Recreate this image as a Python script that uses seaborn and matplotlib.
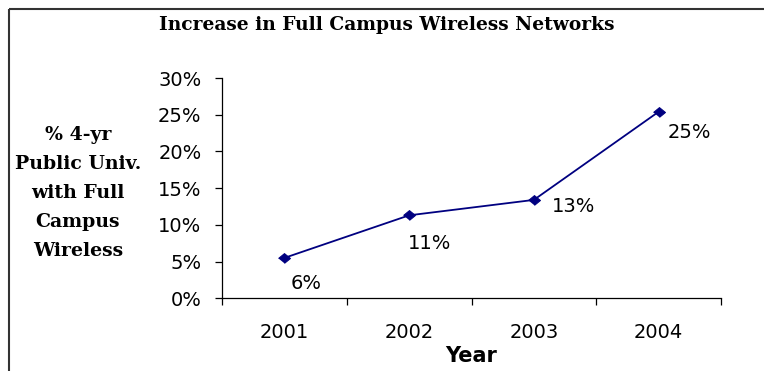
import matplotlib
matplotlib.use("Agg")
import matplotlib.pyplot as plt
from matplotlib.lines import Line2D
from matplotlib.ticker import PercentFormatter, FixedLocator
import seaborn as sns
import pandas as pd

# Share of 4-year public universities with campus-wide wireless
years = ["2001", "2002", "2003", "2004"]
pct_wireless = [5.5, 11.3, 13.4, 25.4]
y_ticks = [0, 5, 10, 15, 20, 25, 30]

title = "Increase in Full Campus Wireless Networks"
y_title = "% 4-yr\nPublic Univ.\nwith Full\nCampus\nWireless"
x_title = "Year"

# label offsets from each point, in pixels (right, down)
label_offsets = [(6, 16), (-1, 19), (18, -3), (9, 11)]

sns.set_theme(style="white")
plt.rcParams["font.family"] = ["DejaVu Sans"]

W, H = 764, 371
DPI = 100
fig = plt.figure(figsize=(W / DPI, H / DPI), dpi=DPI)
fig.patch.set_facecolor("white")

ax_l, ax_r, ax_t, ax_b = 222, 721, 78, 298.3
ax = fig.add_axes([ax_l / W, (H - ax_b) / H, (ax_r - ax_l) / W, (ax_b - ax_t) / H])
ax.set_facecolor("white")

df = pd.DataFrame({"year": years, "pct": pct_wireless})
navy = "#000080"
diamond = [(-1, 0), (0, 0.82), (1, 0), (0, -0.82)]
sns.lineplot(data=df, x="year", y="pct", ax=ax, color=navy, linewidth=1.3,
             marker=diamond, markersize=8.6, markeredgecolor=navy,
             markerfacecolor=navy, sort=False)

ax.set_xlim(-0.5, len(years) - 0.5)
ax.set_ylim(y_ticks[0], y_ticks[-1])

# y axis
ax.yaxis.set_major_locator(FixedLocator(y_ticks))
ax.yaxis.set_major_formatter(PercentFormatter(decimals=0))
ax.tick_params(axis="y", which="major", direction="out", length=4.7, width=0.9,
               color="black", pad=10, labelsize=14, labelcolor="black", left=True)

# x axis: labels at category centres, tick marks between categories
ax.set_xticks(range(len(years)))
ax.set_xticklabels(years)
ax.set_xticks([i - 0.5 for i in range(len(years) + 1)], minor=True)
ax.tick_params(axis="x", which="major", length=0, pad=17.6, labelsize=14,
               labelcolor="black")
ax.tick_params(axis="x", which="minor", direction="out", length=5, width=0.9,
               color="black", bottom=True)

for side in ["top", "right"]:
    ax.spines[side].set_visible(False)
for side in ["left", "bottom"]:
    ax.spines[side].set_color("black")
    ax.spines[side].set_linewidth(0.9)

# value labels
for i, (v, (dx, dy)) in enumerate(zip(pct_wireless, label_offsets)):
    ax.annotate(f"{v:.0f}%", xy=(i, v), xytext=(dx * 72 / DPI, -dy * 72 / DPI),
                textcoords="offset points", ha="left", va="top",
                fontsize=14, color="black")

# axis titles
ax.set_xlabel(x_title, fontsize=15, fontweight="bold", color="black")
ax.xaxis.label.set_va("baseline")
ax.xaxis.set_label_coords(0.5, ((H - 361.7) - (H - ax_b)) / (ax_b - ax_t))

ax.set_ylabel(y_title, fontsize=13.6, fontweight="bold", color="black",
              rotation=0, ha="center", va="center", linespacing=1.77,
              family=["DejaVu Serif"])
ax.yaxis.set_label_coords((78 - ax_l) / (ax_r - ax_l), (ax_b - 193) / (ax_b - ax_t))

# chart title
fig.text(387 / W, (H - 29.7) / H, title, ha="center", va="baseline",
         fontsize=13.4, fontweight="bold", family=["DejaVu Serif"], color="black")

# outer chart frame (left and top edges)
frame_col = "#333333"
fig.add_artist(Line2D([9 / W, 9 / W], [0, (H - 9) / H], transform=fig.transFigure,
                      color=frame_col, linewidth=1.5, solid_capstyle="butt"))
fig.add_artist(Line2D([9 / W, 1], [(H - 9) / H, (H - 9) / H], transform=fig.transFigure,
                      color=frame_col, linewidth=1.5, solid_capstyle="butt"))

fig.savefig("out.png", dpi=DPI, facecolor="white")
